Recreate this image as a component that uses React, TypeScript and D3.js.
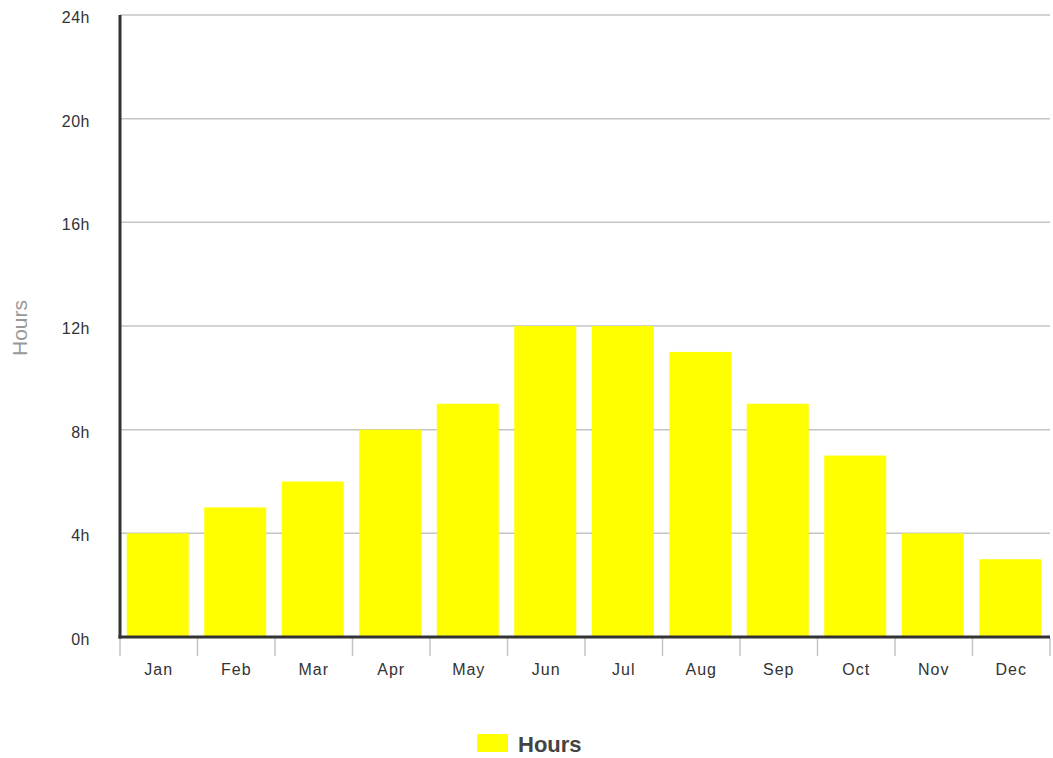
import React from "react";
import * as d3 from "d3";

// Average daily sunshine hours per month
const months = ["Jan", "Feb", "Mar", "Apr", "May", "Jun", "Jul", "Aug", "Sep", "Oct", "Nov", "Dec"];
const hours = [4, 5, 6, 8, 9, 12, 12, 11, 9, 7, 4, 3];
const yTicks = [0, 4, 8, 12, 16, 20, 24];
const seriesName = "Hours";
const yAxisTitle = "Hours";

const W = 1053;
const H = 758;
const margin = { left: 120, right: 1050, top: 15, bottom: 637 };
const font = "Arial, 'Liberation Sans', Helvetica, sans-serif";
const barColor = "#ffff00";

export default function App() {
  const x = d3
    .scaleBand<string>()
    .domain(months)
    .range([margin.left, margin.right])
    .paddingInner(0.2)
    .paddingOuter(0.1);
  const y = d3.scaleLinear().domain([0, 24]).range([margin.bottom, margin.top]);
  const step = x.step();
  const boundaries = d3.range(months.length + 1).map((i) => margin.left + i * step);

  return (
    <div style={{ position: "absolute", left: 0, top: 0, width: W, height: H, background: "#fff" }}>
      <svg width={W} height={H} style={{ display: "block", fontFamily: font }}>
        <rect x={0} y={0} width={W} height={H} fill="#fff" />

        {/* horizontal grid */}
        {yTicks
          .filter((t) => t !== 0)
          .map((t) => (
            <line
              key={"g" + t}
              x1={margin.left}
              x2={margin.right}
              y1={y(t)}
              y2={y(t)}
              stroke="#c4c4c4"
              strokeWidth={1.5}
            />
          ))}

        {/* bars */}
        {months.map((m, i) => (
          <rect
            key={m}
            x={x(m)! - 1}
            y={y(hours[i])}
            width={x.bandwidth()}
            height={y(0) - y(hours[i])}
            fill={barColor}
          />
        ))}

        {/* category separators below the baseline */}
        {boundaries.map((bx, i) => (
          <line key={"t" + i} x1={bx} x2={bx} y1={638} y2={656} stroke="#c4c4c4" strokeWidth={1.5} />
        ))}

        {/* axes */}
        <line x1={margin.left - 1.5} x2={margin.right} y1={y(0)} y2={y(0)} stroke="#333" strokeWidth={3} />
        <line x1={margin.left} x2={margin.left} y1={margin.top} y2={y(0) + 1.5} stroke="#333" strokeWidth={3} />

        {/* y tick labels */}
        {yTicks.map((t) => (
          <text
            key={"yl" + t}
            x={90}
            y={y(t) + 8}
            textAnchor="end"
            fontSize={16}
            fill="#333"
            letterSpacing={0.5}
          >
            {t + "h"}
          </text>
        ))}

        {/* x tick labels */}
        {months.map((m) => (
          <text
            key={"xl" + m}
            x={x(m)! + x.bandwidth() / 2}
            y={675}
            textAnchor="middle"
            fontSize={16}
            fill="#333"
            letterSpacing={1}
          >
            {m}
          </text>
        ))}

        {/* y axis title */}
        <text
          transform={`translate(27, 328) rotate(-90)`}
          textAnchor="middle"
          fontSize={21}
          fill="#999"
        >
          {yAxisTitle}
        </text>

        {/* legend */}
        <rect x={477} y={734} width={31} height={18} fill={barColor} />
        <text x={518} y={752} fontSize={22} fontWeight="bold" fill="#444">
          {seriesName}
        </text>
      </svg>
    </div>
  );
}
